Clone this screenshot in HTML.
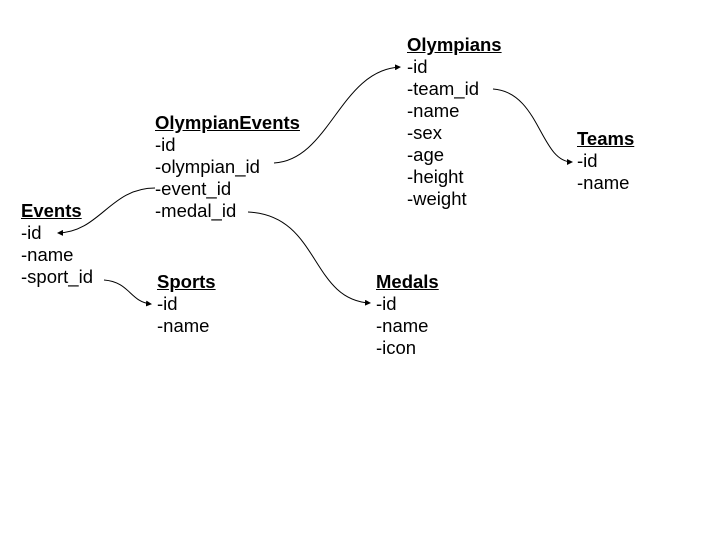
<!DOCTYPE html>
<html><head><style>
body{margin:0;width:720px;height:540px;background:#fff;position:relative;font-family:"Liberation Sans",Arial,sans-serif;font-size:18.5px;color:#000}
.b{position:absolute;line-height:22px}
.t{font-weight:bold;text-decoration:underline}
svg{position:absolute;left:0;top:0}
</style></head><body>
<div class="b" style="left:407px;top:34px"><div class="t">Olympians</div>-id<br>-team_id<br>-name<br>-sex<br>-age<br>-height<br>-weight</div>
<div class="b" style="left:155px;top:112px"><div class="t">OlympianEvents</div>-id<br>-olympian_id<br>-event_id<br>-medal_id</div>
<div class="b" style="left:21px;top:200px"><div class="t">Events</div>-id<br>-name<br>-sport_id</div>
<div class="b" style="left:157px;top:271px"><div class="t">Sports</div>-id<br>-name</div>
<div class="b" style="left:376px;top:271px"><div class="t">Medals</div>-id<br>-name<br>-icon</div>
<div class="b" style="left:577px;top:128px"><div class="t">Teams</div>-id<br>-name</div>
<svg width="720" height="540">
<defs><marker id="a" markerWidth="6" markerHeight="6" refX="5" refY="3" orient="auto"><path d="M0,0 L6,3 L0,6z" fill="#000"/></marker></defs>
<g fill="none" stroke="#000" stroke-width="1" marker-end="url(#a)">
<path d="M274,163 C330,160 340,70 400,67"/>
<path d="M155,188 C110,188 100,232 58,233"/>
<path d="M248,212 C320,215 310,300 370,303"/>
<path d="M493,89 C540,92 540,162 572,162"/>
<path d="M104,280 C130,282 130,302 151,304"/>
</g></svg>
</body></html>
